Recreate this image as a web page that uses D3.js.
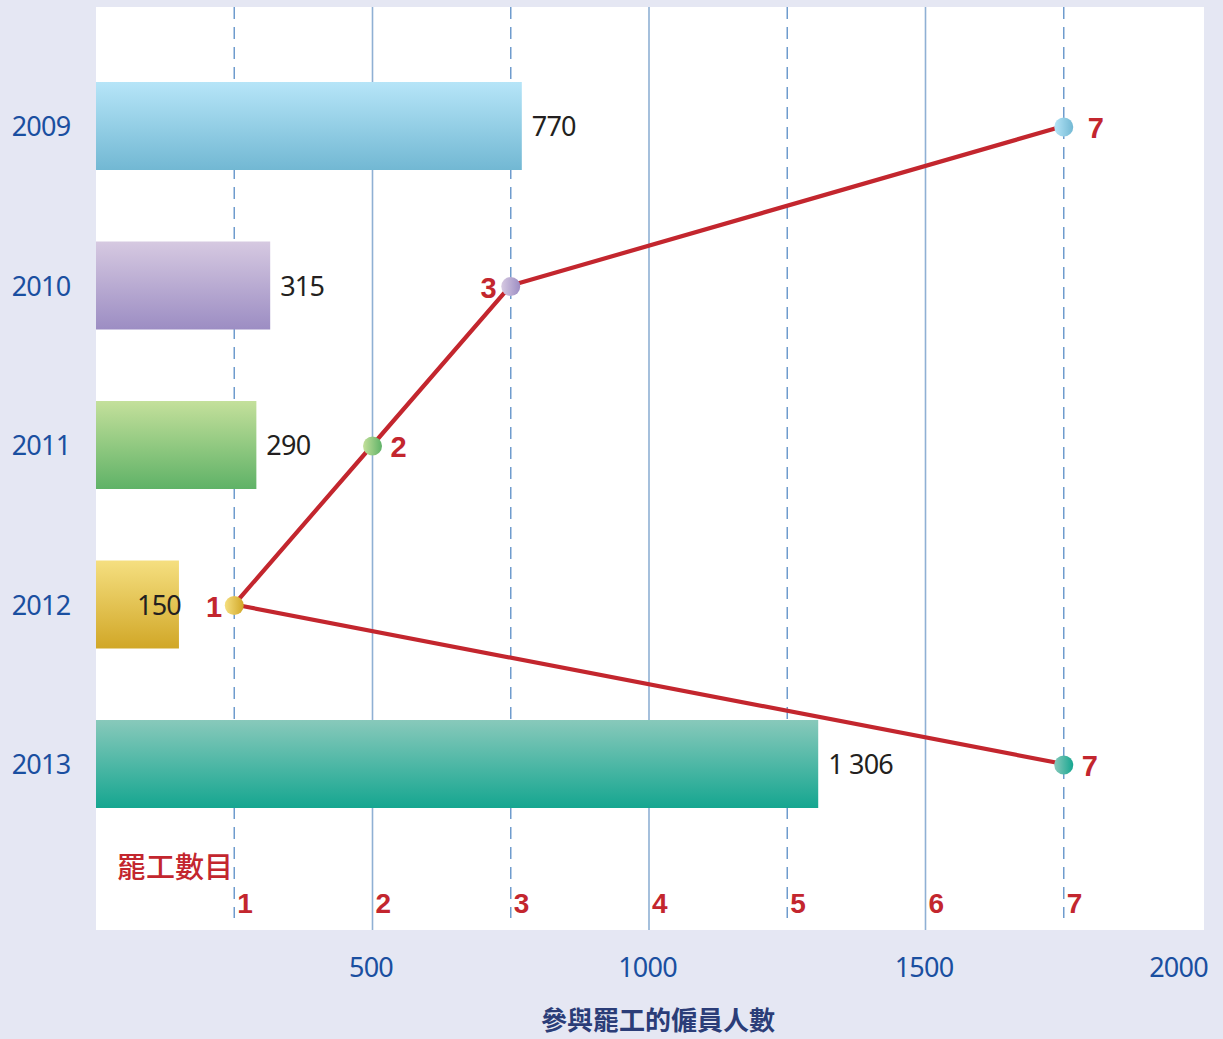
<!DOCTYPE html>
<html>
<head>
<meta charset="utf-8">
<script src="https://cdn.jsdelivr.net/npm/d3@7"></script>
<style>
  html, body { margin: 0; padding: 0; background: #e5e7f3; }
  svg { display: block; }
</style>
</head>
<body>
<svg id="chart" width="1223" height="1039"></svg>
<script>
// data
const years = ['2009', '2010', '2011', '2012', '2013'];
const employees = [770, 315, 290, 150, 1306];
const employeeLabels = ['770', '315', '290', '150', '1 306'];
const strikes = [7, 3, 2, 1, 7];
const strikeTicks = [1, 2, 3, 4, 5, 6, 7];
const employeeTicks = [500, 1000, 1500, 2000];

const barTop = ['#b6e5f8', '#d6c9e1', '#c4e09b', '#f5df80', '#88c9bb'];
const barBottom = ['#72b8d3', '#9c8dc3', '#5fb267', '#d1a727', '#15a690'];

const W = 1223, H = 1039;
const plot = { left: 96, right: 1204, top: 7, bottom: 930 };
const red = '#c3262e';
const numFont = '"Noto Sans", "Open Sans", sans-serif';
const boldFont = '"Liberation Sans", Arial, sans-serif';

const svg = d3.select('#chart');
const defs = svg.append('defs');

// two x scales sharing the same pixels: 1 strike = 250 employees
const x = d3.scaleLinear().domain([0, 2000]).range([96, 1202]);
const xs = d3.scaleLinear().domain([0, 8]).range([96, 1202]);
const y = d3.scalePoint().domain(years).range([126, 764]);
const barH = 88;

years.forEach((yr, i) => {
  const g = defs.append('linearGradient')
    .attr('id', `bar${yr}`).attr('x1', 0).attr('y1', 0).attr('x2', 0).attr('y2', 1);
  g.append('stop').attr('offset', '0%').attr('stop-color', barTop[i]);
  g.append('stop').attr('offset', '100%').attr('stop-color', barBottom[i]);
  const d = defs.append('linearGradient')
    .attr('id', `dot${yr}`).attr('x1', 0).attr('y1', 0).attr('x2', 1).attr('y2', 0);
  d.append('stop').attr('offset', '0%').attr('stop-color', barTop[i]);
  d.append('stop').attr('offset', '100%').attr('stop-color', barBottom[i]);
});

svg.append('rect')
  .attr('x', plot.left).attr('y', plot.top)
  .attr('width', plot.right - plot.left).attr('height', plot.bottom - plot.top)
  .attr('fill', '#ffffff');

// vertical grid: odd strike counts dashed, even (= 500 steps) solid
svg.append('g').selectAll('line')
  .data(strikeTicks)
  .join('line')
  .attr('x1', (d) => xs(d)).attr('x2', (d) => xs(d))
  .attr('y1', plot.top)
  .attr('y2', (d) => (d % 2 ? 918 : plot.bottom))
  .attr('stroke', (d) => (d % 2 ? '#6e9bcd' : '#8fb0d4'))
  .attr('stroke-width', (d) => (d % 2 ? 1.5 : 1.6))
  .attr('stroke-dasharray', (d) => (d % 2 ? '12,8' : null));

// bars
svg.append('g').selectAll('rect')
  .data(years)
  .join('rect')
  .attr('x', x(0))
  .attr('y', (d) => y(d) - barH / 2)
  .attr('width', (d, i) => x(employees[i]) - x(0))
  .attr('height', barH)
  .attr('fill', (d) => `url(#bar${d})`);

// employee value labels (2012 sits inside its bar)
svg.append('g').selectAll('text')
  .data(years)
  .join('text')
  .attr('x', (d, i) => (i === 3 ? x(employees[i]) + 2 : x(employees[i]) + 10))
  .attr('y', (d) => y(d) + 10)
  .attr('text-anchor', (d, i) => (i === 3 ? 'end' : 'start'))
  .attr('font-family', numFont)
  .attr('font-size', 27)
  .attr('letter-spacing', -0.8)
  .attr('fill', '#231f20')
  .text((d, i) => employeeLabels[i]);

// year labels
svg.append('g').selectAll('text')
  .data(years)
  .join('text')
  .attr('x', 41)
  .attr('y', (d) => y(d) + 10)
  .attr('text-anchor', 'middle')
  .attr('font-family', numFont)
  .attr('font-size', 27)
  .attr('letter-spacing', -0.8)
  .attr('fill', '#1a4fa0')
  .text((d) => d);

// strike count line
const line = d3.line()
  .x((d, i) => xs(strikes[i]))
  .y((d) => y(d));

svg.append('path')
  .datum(years)
  .attr('d', line)
  .attr('fill', 'none')
  .attr('stroke', red)
  .attr('stroke-width', 4.2)
  .attr('stroke-linejoin', 'round');

svg.append('g').selectAll('circle')
  .data(years)
  .join('circle')
  .attr('cx', (d, i) => xs(strikes[i]))
  .attr('cy', (d) => y(d) + 1)
  .attr('r', 9.5)
  .attr('fill', (d) => `url(#dot${d})`);

// strike count labels, left of the dot for 2010 and 2012
const labelShift = [24, -14, 18, -12, 18];
svg.append('g').selectAll('text')
  .data(years)
  .join('text')
  .attr('x', (d, i) => xs(strikes[i]) + labelShift[i])
  .attr('y', (d) => y(d) + 12)
  .attr('text-anchor', (d, i) => (labelShift[i] < 0 ? 'end' : 'start'))
  .attr('font-family', boldFont)
  .attr('font-weight', 'bold')
  .attr('font-size', 29)
  .attr('fill', red)
  .text((d, i) => strikes[i]);

// strike axis labels inside the plot
svg.append('g').selectAll('text')
  .data(strikeTicks)
  .join('text')
  .attr('x', (d) => xs(d) + 3)
  .attr('y', 913)
  .attr('font-family', boldFont)
  .attr('font-weight', 'bold')
  .attr('font-size', 28)
  .attr('fill', red)
  .text((d) => d);

svg.append('text')
  .attr('x', 233)
  .attr('y', 878)
  .attr('text-anchor', 'end')
  .attr('font-family', '"Noto Sans CJK TC", sans-serif')
  .attr('font-weight', 500)
  .attr('font-size', 29)
  .attr('fill', red)
  .text('罷工數目');

// employee axis below the plot
const xAxis = d3.axisBottom(x)
  .tickValues(employeeTicks)
  .tickFormat(d3.format('d'))
  .tickSize(0)
  .tickPadding(0);
const axisG = svg.append('g')
  .attr('transform', `translate(0,${plot.bottom})`)
  .call(xAxis);
axisG.select('.domain').remove();
axisG.selectAll('text')
  .attr('dy', 0)
  .attr('y', 47)
  .attr('x', (d) => (d === 2000 ? -24 : -2))
  .attr('font-family', numFont)
  .attr('font-size', 27)
  .attr('letter-spacing', -0.8)
  .attr('fill', '#1a4fa0');

svg.append('text')
  .attr('x', 658)
  .attr('y', 1030)
  .attr('text-anchor', 'middle')
  .attr('font-family', '"Noto Sans CJK TC", sans-serif')
  .attr('font-weight', 'bold')
  .attr('font-size', 26)
  .attr('fill', '#2b3d78')
  .text('參與罷工的僱員人數');
</script>
</body>
</html>
